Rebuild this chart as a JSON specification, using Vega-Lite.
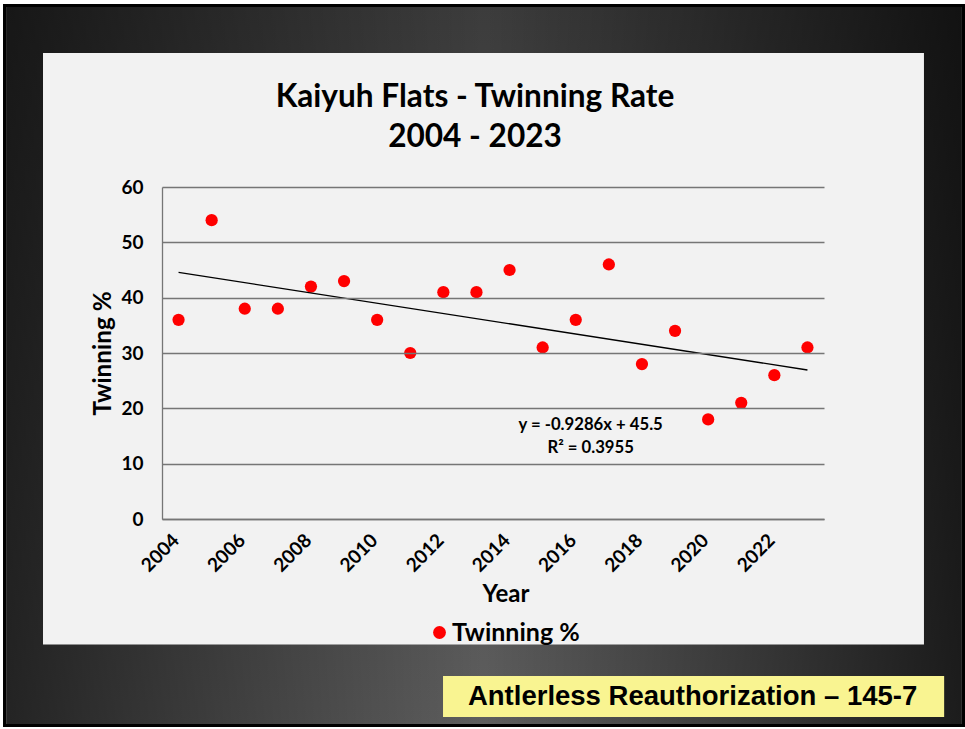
{
  "$schema": "https://vega.github.io/schema/vega-lite/v6.json",
  "width": 662,
  "height": 332,
  "autosize": {"type": "none"},
  "padding": {"left": 162, "top": 187, "right": 141, "bottom": 210},
  "background": "#ffffff",
  "title": {
    "text": ["Kaiyuh Flats - Twinning Rate", "2004 - 2023"],
    "font": "Lato",
    "fontSize": 31.6,
    "fontWeight": "bold",
    "color": "#000000",
    "lineHeight": 40,
    "anchor": "middle",
    "frame": "group",
    "baseline": "bottom",
    "offset": -182,
    "dx": -18
  },
  "data": {
    "values": [
      {"Year": 2004, "Twinning": 36},
      {"Year": 2005, "Twinning": 54},
      {"Year": 2006, "Twinning": 38},
      {"Year": 2007, "Twinning": 38},
      {"Year": 2008, "Twinning": 42},
      {"Year": 2009, "Twinning": 43},
      {"Year": 2010, "Twinning": 36},
      {"Year": 2011, "Twinning": 30},
      {"Year": 2012, "Twinning": 41},
      {"Year": 2013, "Twinning": 41},
      {"Year": 2014, "Twinning": 45},
      {"Year": 2015, "Twinning": 31},
      {"Year": 2016, "Twinning": 36},
      {"Year": 2017, "Twinning": 46},
      {"Year": 2018, "Twinning": 28},
      {"Year": 2019, "Twinning": 34},
      {"Year": 2020, "Twinning": 18},
      {"Year": 2021, "Twinning": 21},
      {"Year": 2022, "Twinning": 26},
      {"Year": 2023, "Twinning": 31}
    ]
  },
  "layer": [
    {
      "data": {"values": [{}]},
      "mark": {
        "type": "rect",
        "fill": {"gradient": "linear", "x1": 0, "y1": 0, "x2": 0, "y2": 1, "stops": [{"offset": 0, "color": "#3c3c3c"}, {"offset": 1, "color": "#5e5e5e"}]},
        "stroke": "#000000",
        "strokeWidth": 3
      },
      "encoding": {
        "x": {"datum": 1998.742, "type": "quantitative", "scale": {"type": "linear", "domain": [2003.5, 2023.5], "nice": false, "zero": false}},
        "x2": {"datum": 2027.715},
        "y": {"datum": 92.8, "type": "quantitative", "scale": {"type": "linear", "domain": [0, 60], "nice": false, "zero": false}},
        "y2": {"datum": -37.33}
      }
    },
    {
      "data": {"values": [{}]},
      "mark": {
        "type": "rect",
        "fill": {"gradient": "linear", "x1": 0, "y1": 0, "x2": 1, "y2": 0, "stops": [{"offset": 0, "color": "rgba(0,0,0,0.62)"}, {"offset": 0.5, "color": "rgba(0,0,0,0)"}, {"offset": 1, "color": "rgba(0,0,0,0.7)"}]},
        "strokeWidth": 0
      },
      "encoding": {
        "x": {"datum": 1998.8, "type": "quantitative"},
        "x2": {"datum": 2027.66},
        "y": {"datum": 92.7, "type": "quantitative"},
        "y2": {"datum": -37.2}
      }
    },
    {
      "data": {"values": [{}]},
      "mark": {"type": "rect", "fill": "#f2f2f2"},
      "encoding": {
        "x": {"datum": 1999.905, "type": "quantitative"},
        "x2": {"datum": 2026.52},
        "y": {"datum": 84.22, "type": "quantitative"},
        "y2": {"datum": -22.69}
      }
    },
    {
      "data": {"values": [{}]},
      "mark": {"type": "rect", "fill": "#f9f491"},
      "encoding": {
        "x": {"datum": 2011.99, "type": "quantitative"},
        "x2": {"datum": 2027.13},
        "y": {"datum": -28.38, "type": "quantitative"},
        "y2": {"datum": -35.79}
      }
    },
    {
      "data": {"values": [{}]},
      "mark": {"type": "text", "text": "Antlerless Reauthorization – 145-7", "font": "Liberation Sans", "fontSize": 27.5, "fontWeight": "bold", "color": "#000000", "align": "center", "baseline": "middle"},
      "encoding": {
        "x": {"datum": 2019.53, "type": "quantitative"},
        "y": {"datum": -32.08, "type": "quantitative"}
      }
    },
    {
      "mark": {"type": "circle", "size": 150, "opacity": 1},
      "encoding": {
        "x": {
          "field": "Year",
          "type": "quantitative",
          "scale": {"type": "linear", "domain": [2003.5, 2023.5], "nice": false, "zero": false},
          "axis": {
            "title": "Year",
            "values": [2004, 2006, 2008, 2010, 2012, 2014, 2016, 2018, 2020, 2022],
            "format": "d",
            "labelAngle": -45,
            "labelAlign": "right",
            "labelBaseline": "middle",
            "labelPadding": 18,
            "labelOffset": -3,
            "ticks": false,
            "tickSize": 0,
            "grid": false,
            "domain": true,
            "domainColor": "#767676",
            "domainWidth": 1.3,
            "labelFont": "Lato",
            "labelFontSize": 19,
            "labelFontWeight": "bold",
            "labelColor": "#000000",
            "labelFlush": false,
            "labelOverlap": false,
            "titleFont": "Lato",
            "titleFontSize": 24,
            "titleFontWeight": "bold",
            "titleColor": "#000000",
            "titleX": 343.5,
            "titleY": 75,
            "titleAlign": "center",
            "titleBaseline": "middle",
            "zindex": 1
          }
        },
        "y": {
          "field": "Twinning",
          "type": "quantitative",
          "scale": {"type": "linear", "domain": [0, 60], "nice": false, "zero": false},
          "axis": {
            "title": "Twinning %",
            "values": [0, 10, 20, 30, 40, 50, 60],
            "ticks": false,
            "tickSize": 0,
            "grid": true,
            "gridColor": "#767676",
            "gridWidth": 1.3,
            "domain": true,
            "domainColor": "#767676",
            "domainWidth": 1.3,
            "labelPadding": 19,
            "labelFont": "Lato",
            "labelFontSize": 19,
            "labelFontWeight": "bold",
            "labelColor": "#000000",
            "labelFlush": false,
            "titleFont": "Lato",
            "titleFontSize": 24.3,
            "titleFontWeight": "bold",
            "titleColor": "#000000",
            "titleX": -59,
            "titleY": 166,
            "titleAngle": 270,
            "titleAlign": "center",
            "titleBaseline": "middle",
            "zindex": 1
          }
        },
        "color": {
          "datum": "Twinning %",
          "scale": {"range": ["#ff0000"]},
          "legend": {
            "orient": "none",
            "legendX": 265,
            "legendY": 433,
            "title": null,
            "padding": 0,
            "symbolType": "circle",
            "symbolSize": 165,
            "symbolStrokeWidth": 0,
            "labelFont": "Lato",
            "labelFontSize": 25,
            "labelFontWeight": "bold",
            "labelColor": "#000000",
            "labelOffset": 0
          }
        }
      }
    },
    {
      "transform": [{"regression": "Twinning", "on": "Year", "extent": [2004, 2023]}],
      "mark": {"type": "line", "color": "#000000", "strokeWidth": 1.3},
      "encoding": {
        "x": {"field": "Year", "type": "quantitative"},
        "y": {"field": "Twinning", "type": "quantitative"}
      }
    },
    {
      "data": {"values": [{}]},
      "mark": {"type": "text", "text": "y = -0.9286x + 45.5", "font": "Lato", "fontSize": 16.7, "fontWeight": "bold", "color": "#000000", "align": "center", "baseline": "middle"},
      "encoding": {
        "x": {"datum": 2016.45, "type": "quantitative"},
        "y": {"datum": 16.99, "type": "quantitative"}
      }
    },
    {
      "data": {"values": [{}]},
      "mark": {"type": "text", "text": "R² = 0.3955", "font": "Lato", "fontSize": 16.7, "fontWeight": "bold", "color": "#000000", "align": "center", "baseline": "middle"},
      "encoding": {
        "x": {"datum": 2016.45, "type": "quantitative"},
        "y": {"datum": 12.88, "type": "quantitative"}
      }
    }
  ],
  "config": {
    "view": {"stroke": null}
  }
}
